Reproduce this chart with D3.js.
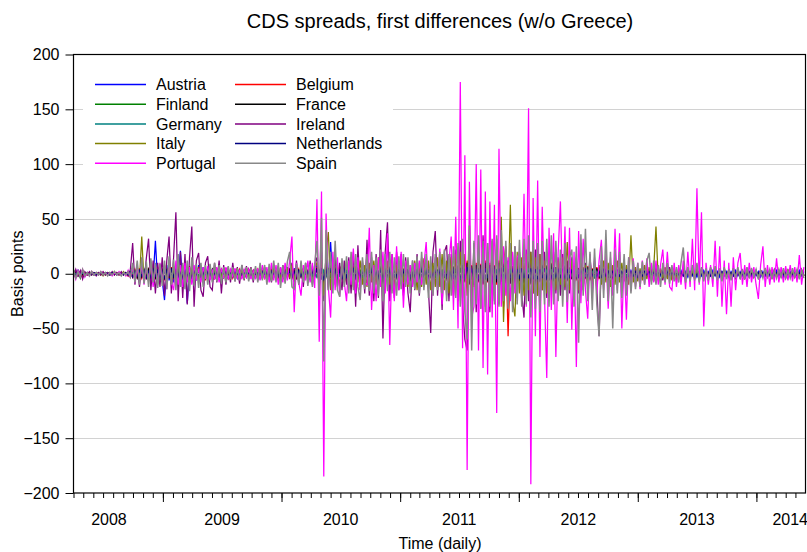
<!DOCTYPE html>
<html>
<head>
<meta charset="utf-8">
<script src="https://cdn.jsdelivr.net/npm/d3@7/dist/d3.min.js"></script>
<style>
  body { margin: 0; background: #fff; }
  text { font-family: "Liberation Sans", Arial, Helvetica, sans-serif; fill: #000; }
</style>
</head>
<body>
<svg id="chart" width="807" height="552"></svg>
<script>
// Weekly first differences of sovereign CDS spreads (basis points), first week starting 2008-04-01.
const startDate = "2008-04-01";
const endDate = "2014-06-01";

const countries = ["Austria", "Belgium", "Finland", "France", "Germany",
                   "Ireland", "Italy", "Netherlands", "Portugal", "Spain"];
const colors = ["#0000ff", "#ff0000", "#008000", "#000000", "#008080",
                "#800080", "#808000", "#000080", "#ff00ff", "#888888"];

const austria = [
  1,-2,3,-1,2,-1,1,-1,1,-1,1,-1,1,-1,1,-1,1,-1,1,-1,
  1,-1,1,-1,2,-2,4,-5,3,-4,5,-6,4,-5,6,-4,30,-8,5,-6,
  -24,8,-6,5,-8,6,-5,21,-10,8,-27,6,-8,5,-6,8,-5,6,-4,5,
  -4,3,-5,4,-3,4,-3,5,-4,3,-2,3,-4,2,-3,2,-3,4,-2,3,
  -3,2,-4,3,-2,3,-4,2,-3,4,-3,2,-3,4,-2,3,-4,5,-3,2,
  -3,4,-2,3,-5,2,-3,8,-6,10,-12,8,-6,29,-8,6,-5,4,-6,5,
  -4,6,-5,4,-3,5,-6,4,-5,3,-4,5,-3,4,-6,5,-4,3,-5,4,
  -3,5,-4,3,-5,4,-6,3,-4,5,-3,4,-5,6,-4,3,-5,4,-3,5,
  -4,6,-5,4,-6,5,-4,6,-8,5,-10,8,-6,10,-8,6,-5,8,-6,5,
  -8,6,-5,8,-6,5,-8,6,-10,8,-6,5,-8,6,-5,8,-6,5,-8,6,
  -5,8,-6,5,-8,6,-5,8,-6,5,-4,6,-5,4,-6,5,-4,6,-5,4,
  -6,5,-4,6,-5,4,-3,5,-4,3,-5,4,-3,5,-4,3,-2,4,-3,2,
  -3,2,-4,3,-2,3,-2,4,-3,2,-3,2,-2,3,-2,2,-3,2,-2,3,
  -2,3,-2,2,-3,2,-2,3,-2,2,-3,2,-2,2,-3,2,-2,3,-2,2,
  -2,3,-2,2,-3,2,-2,2,-3,2,-2,3,-2,2,-2,3,-2,2,-3,2,
  -2,2,-3,2,-2,3,-2,2,-2,3,-2,2,-3,2,-2,2,-3,2,-2,3,-2,2
];

const belgium = [
  -2,1,-1,2,-3,1,-1,1,-1,1,-1,1,-1,1,-1,1,-1,1,-1,1,
  -1,1,-1,1,-2,2,-3,4,-3,5,-4,3,-5,4,-3,5,-4,6,-5,4,
  -6,5,-4,6,-5,7,-6,5,-8,6,-5,7,-6,5,-4,6,-5,4,-6,5,
  -4,3,-5,4,-3,4,-3,5,-4,3,-4,3,-2,4,-3,2,-3,4,-2,3,
  -3,4,-2,3,-4,3,-2,4,-3,2,-4,3,-5,4,-3,5,-4,3,-5,4,
  -3,5,-4,3,-5,4,-3,6,-8,5,-10,8,-6,5,-8,6,-5,7,-6,5,
  -8,6,-5,7,-6,8,-5,6,-7,5,-8,6,-10,8,-6,10,-12,8,-6,7,
  -8,6,-5,8,-6,5,-7,6,-8,5,-6,8,-5,7,-6,5,-8,10,-7,6,
  -8,7,-10,8,-6,9,-8,7,-10,8,-12,10,-8,12,-10,8,-12,10,-8,9,
  -10,12,-8,10,-12,8,-10,12,-9,10,25,-57,10,-8,12,-10,8,-12,10,-8,
  12,-10,8,-12,10,-8,9,-10,8,-6,10,-8,6,-9,7,-6,8,-7,6,-5,
  7,-6,5,-8,6,-5,7,-6,5,-4,6,-5,4,-6,5,-4,6,-5,4,-3,
  5,-4,3,-5,4,-3,4,-3,5,-4,3,-2,4,-3,2,-3,4,-2,3,-2,
  3,-2,4,-3,2,-3,2,-2,3,-2,2,-3,2,-2,3,-2,2,-2,3,-2,
  2,-3,2,-2,3,-2,2,-2,3,-2,2,-2,3,-2,2,-3,2,-2,2,-3,
  2,-2,3,-2,2,-2,3,-2,2,-3,2,-2,2,-2,3,-2,2,-2,3,-2,2,-2
];

const finland = [
  4,-3,2,-4,3,-2,1,-1,1,-1,1,-1,1,-1,1,-1,1,-1,1,-1,
  1,-1,1,-1,1,-2,2,-3,2,-2,3,-2,2,-3,2,-3,3,-2,2,-3,
  2,-3,3,-2,2,-3,3,-2,3,-2,2,-3,2,-2,3,-2,2,-2,3,-2,
  2,-2,1,-2,2,-1,2,-2,1,-2,2,-1,2,-1,1,-2,2,-1,1,-2,
  2,-1,2,-2,1,-2,2,-1,2,-2,1,-2,2,-1,2,-2,3,-2,2,-3,
  2,-3,2,-2,3,-2,2,-3,3,-4,3,-3,4,-3,2,-3,3,-2,3,-2,
  3,-3,2,-3,3,-2,3,-3,2,-3,3,-2,3,-3,2,-3,3,-2,3,-3,
  2,-3,3,-2,3,-3,2,-3,3,-2,3,-3,2,-3,3,-4,3,-3,4,-3,
  3,-4,3,-3,4,-3,3,-4,3,-4,4,-3,4,-4,3,-4,4,-3,4,-4,
  3,-4,4,-3,4,-4,3,-4,4,-3,4,-4,3,-4,4,-3,4,-4,3,-4,
  4,-3,4,-4,3,-4,4,-3,4,-4,3,-4,4,-3,3,-4,3,-3,4,-3,
  3,-3,4,-3,3,-3,4,-3,3,-3,2,-3,3,-2,3,-3,2,-3,3,-2,
  2,-2,3,-2,2,-2,3,-2,2,-2,2,-2,2,-1,2,-2,1,-2,2,-1,
  2,-1,1,-2,2,-1,1,-1,2,-1,1,-2,1,-1,2,-1,1,-1,1,-2,
  1,-1,2,-1,1,-1,1,-2,1,-1,1,-1,2,-1,1,-1,1,-1,2,-1,
  1,-1,1,-2,1,-1,1,-1,2,-1,1,-1,1,-1,1,-2,1,-1,1,-1,1,-1
];

const france = [
  -1,2,-2,1,-1,1,-1,1,-1,1,-1,1,-1,1,-1,1,-1,1,-1,1,
  -1,1,-1,1,-1,2,-3,3,-4,3,-3,4,-3,4,-5,3,-4,5,-3,4,
  -5,4,-3,5,-4,6,-5,4,-6,5,-4,5,-6,4,-3,5,-4,3,-5,4,
  -3,4,-3,2,-4,3,-2,3,-3,2,-3,2,-2,3,-2,3,-2,2,-3,2,
  -2,3,-2,2,-3,2,-3,3,-2,3,-3,2,-4,3,-2,4,-3,2,-4,3,
  -2,4,-3,2,-4,3,-2,5,-6,4,-8,6,-5,4,-6,5,-4,6,-5,4,
  -6,5,-4,6,-5,7,-4,5,-6,4,-7,5,-8,6,-5,8,-9,6,-5,6,
  -6,5,-4,6,-5,4,-6,5,-7,4,-5,6,-4,6,-5,4,-6,8,-6,5,
  -6,6,-8,7,-5,8,-7,6,-8,7,-10,8,-7,10,-9,7,-10,8,-7,8,
  -9,10,-7,8,-10,7,-8,10,-8,9,-10,12,-9,7,-10,9,-7,10,-9,7,
  10,-9,7,-10,8,-7,8,-9,7,-6,9,-7,6,-8,6,-5,7,-6,5,-5,
  6,-5,5,-7,5,-4,6,-5,4,-4,5,-4,4,-5,4,-4,5,-4,3,-3,
  4,-3,3,-4,3,-3,3,-3,4,-3,3,-2,3,-3,2,-3,3,-2,3,-2,
  3,-2,2,-3,2,-1,2,-3,3,-2,1,-2,3,-2,2,-1,2,-3,2,-1,
  2,-3,1,-2,2,-1,3,-2,2,-1,2,-3,1,-2,2,-1,3,-2,1,-2,
  2,-1,3,-2,1,-2,2,-3,1,-2,2,-1,3,-2,1,-2,2,-1,2,-3,1,-2
];

const germany = [
  2,-1,3,-2,1,-1,1,0,-1,1,0,-1,1,-1,0,1,-1,0,1,-1,
  0,1,-1,0,1,-2,2,-3,2,-2,3,-2,4,-3,2,-3,3,-4,2,-3,
  3,-2,4,-3,2,-3,4,-2,3,-4,2,-3,3,-2,2,-3,2,-2,3,-2,
  2,-1,2,-2,1,-2,2,-1,1,-2,2,-1,1,-1,2,-1,1,-2,1,-1,
  2,-1,1,-2,1,-1,2,-2,1,-1,2,-1,2,-2,1,-2,2,-1,3,-2,
  2,-1,2,-3,1,-2,2,-3,2,-4,3,-2,3,-2,2,-3,2,-2,3,-2,
  2,-3,2,-2,3,-2,2,-3,2,-2,3,-2,3,-3,2,-3,3,-2,2,-3,
  3,-2,2,-3,2,-2,3,-2,2,-3,2,-2,3,-2,2,-3,3,-2,3,-3,
  2,-3,3,-2,3,-4,3,-3,4,-3,4,-3,3,-4,3,-4,3,-3,4,-3,
  3,-4,3,-3,4,-3,3,-4,4,-3,5,-4,3,-4,4,-3,4,-4,3,-3,
  4,-3,3,-4,3,-3,4,-3,3,-4,3,-3,4,-3,3,-3,2,-3,3,-2,
  3,-2,3,-3,2,-2,3,-2,2,-3,2,-2,2,-2,3,-2,2,-2,2,-1,
  2,-2,1,-2,2,-1,2,-2,1,-1,2,-1,1,-2,1,-1,2,-1,1,-1,
  1,-1,2,-1,1,-1,1,-2,1,-1,1,-1,2,-1,1,-1,1,-1,1,-2,
  1,-1,1,-1,2,-1,1,-1,1,-1,1,-2,1,-1,1,-1,1,-1,2,-1,
  1,-1,1,-1,1,-2,1,-1,1,-1,1,-1,2,-1,1,-1,1,-1,1,-1,2,-1
];

const ireland = [
  -3,4,-2,3,-5,2,-1,2,-1,1,-2,1,-1,2,-1,1,-1,2,-1,1,
  -1,2,-1,1,-2,4,28,-10,8,-12,10,-8,14,32,-15,12,-18,10,-12,15,
  -20,12,34,-18,15,56,-25,20,-22,18,-28,15,43,-30,12,19,-15,-21,10,16,
  -12,-15,10,-8,12,-18,8,-10,6,-8,10,-7,6,-9,8,-6,7,-5,6,-8,
  5,-6,8,-5,6,-7,5,-8,6,-5,7,-6,8,-7,6,-5,10,-8,12,-10,
  8,-12,10,-8,12,-10,8,15,-12,20,-25,18,-15,12,-10,14,-12,10,-15,12,
  -10,15,-18,20,-30,26,-15,12,-18,31,-20,15,-25,18,-22,40,-59,20,47,-25,
  18,-22,20,-15,18,-20,15,-18,-35,12,-15,18,-20,15,-12,10,-15,-54,20,39,
  -20,15,-33,20,26,-25,18,-20,22,-25,30,-28,-60,-70,25,-30,28,-35,30,-32,
  35,-30,28,-35,30,-25,32,-28,25,-30,22,-25,28,-20,25,-22,20,-18,-40,22,
  -25,20,-18,22,-20,18,-15,20,-22,18,-15,20,-18,15,-20,18,-15,12,-18,15,
  -12,15,-18,12,-15,10,-12,15,-10,12,-14,-57,12,-10,14,-12,10,-15,12,-10,
  8,-10,7,-8,6,-7,8,-6,5,-7,6,-5,7,-6,5,-7,6,-5,4,-6,
  5,-4,6,-5,4,-6,5,-4,6,-5,4,-5,6,-4,5,-6,4,-5,3,-4,
  5,-3,4,-5,3,-4,5,-3,4,-3,5,-4,3,-4,3,-5,4,-3,4,-3,
  3,-4,3,-2,4,-3,2,-3,4,-2,3,-3,2,-4,3,-2,3,-3,2,-3,4,-2
];

const italy = [
  2,-3,1,-2,3,-1,1,-1,2,-1,1,-1,1,-2,1,-1,1,-1,2,-1,
  1,-1,2,-1,1,-3,5,-6,4,-5,34,-8,6,-7,5,-8,6,-10,5,-6,
  8,-7,6,-9,7,-8,10,-6,8,-12,6,-8,7,-5,6,-7,5,-6,4,-5,
  5,-4,6,-5,4,-3,5,-4,3,-5,4,-3,5,-4,3,-4,5,-3,4,-3,
  4,-5,3,-4,6,-5,4,-6,5,-4,6,-5,7,-6,5,-4,8,-6,5,-7,
  6,-5,7,-6,5,-8,6,10,-12,15,-20,18,38,-15,12,-10,8,-12,10,-8,
  12,-10,8,-12,10,-8,12,-10,8,-12,10,-8,12,-10,15,-12,10,-14,12,-10,
  10,-12,8,-10,12,-8,10,-12,8,-10,12,-15,10,-12,14,-10,12,-15,10,-12,
  15,-12,18,-15,12,-18,15,-20,18,-15,20,-22,18,-20,44,-25,20,-22,25,-20,
  22,-25,20,-18,22,-20,25,-22,52,-44,20,-18,63,-25,-39,20,-18,15,-20,18,
  -15,20,-18,15,-20,18,-15,12,-18,15,-12,18,-15,12,-10,15,-12,29,-15,12,
  -10,12,-15,10,-12,8,-10,12,-8,10,-12,8,-10,12,-8,10,-12,8,-10,12,
  -8,10,-7,8,-10,35,-8,6,-7,5,-6,8,-5,6,-7,5,43,-6,5,-4,
  6,-5,4,-6,5,-4,3,-5,4,-3,5,-4,3,-5,4,-3,5,-4,3,-2,
  4,-3,2,-4,3,-2,4,-3,2,-3,4,-2,3,-3,2,-4,3,-2,3,-2,
  2,-3,2,-2,3,-2,2,-3,2,-2,3,-2,2,-2,3,-2,2,-3,2,-2,3,-2
];

const netherlands = [
  1,-2,2,-1,3,-2,1,-1,0,1,-1,0,1,-1,1,0,-1,1,0,-1,
  1,0,-1,1,-1,2,-3,2,-2,3,-2,3,-4,2,-3,4,-2,3,-3,2,
  -4,3,-2,4,-3,2,-4,3,-5,4,-3,2,-4,3,-2,3,-4,2,-3,2,
  -2,3,-2,1,-2,2,-1,2,-2,1,-2,2,-1,2,-1,1,-2,1,-2,1,
  -1,2,-1,2,-2,1,-2,2,-1,2,-2,1,-2,2,-1,2,-3,2,-2,3,
  -2,2,-3,2,-2,3,-2,4,-3,5,-6,4,-3,5,-4,3,-4,3,-5,4,
  -3,4,-3,5,-4,3,-4,3,-4,5,-3,4,-5,3,-4,4,-5,3,-4,4,
  -3,4,-3,3,-4,3,-3,4,-3,3,-4,3,-4,4,-3,3,-4,3,-3,4,
  -4,3,-4,4,-3,5,-4,3,-5,4,-5,4,-5,6,-4,5,-5,4,-5,4,
  -5,5,-4,5,-6,4,-5,5,-4,6,-5,7,-4,5,-5,4,-5,5,-4,5,
  -4,5,-5,4,-5,4,-4,5,-4,3,-4,4,-3,4,-3,3,-4,3,-3,3,
  -3,4,-3,3,-3,4,-3,3,-2,3,-3,2,-3,3,-2,2,-3,2,-2,3,
  -2,2,-2,3,-2,2,-2,2,-3,2,-2,2,-1,2,-2,1,-2,2,-1,2,
  -1,2,-2,1,-1,2,-1,1,-2,1,-1,2,-1,1,-1,2,-1,1,-1,1,
  -2,1,-1,1,-1,2,-1,1,-1,1,-2,1,-1,1,-1,1,-1,2,-1,1,
  -1,1,-1,1,-2,1,-1,1,-1,1,-1,2,-1,1,-1,1,-1,1,-2,1,-1,1
];

const portugal = [
  2,-5,3,-2,4,-3,1,-2,2,-1,1,-1,2,-1,1,-1,1,-2,1,-1,
  2,-1,1,-2,3,-4,6,-8,5,-6,8,-10,6,-5,9,-12,7,-8,10,-6,
  8,-14,10,-8,-15,12,-10,8,-12,10,-8,6,-10,8,-6,5,-8,6,-5,7,
  -6,4,-5,6,-8,5,-4,6,-5,4,-3,5,-4,3,-5,4,-3,4,-5,3,
  -4,5,-6,8,-5,6,-8,10,-6,8,-10,6,-8,10,-6,12,34,-35,10,-8,
  -20,8,-6,12,-8,10,-13,68,-62,75,-185,55,-12,-40,20,-15,15,-21,10,-8,
  -25,12,-10,23,-18,15,-15,10,-8,-10,42,-33,8,-25,15,-12,20,-18,37,-65,
  18,-25,25,-15,20,-31,12,-10,8,-12,10,-8,12,-10,8,29,-15,10,-20,15,
  -12,23,-28,15,-20,10,34,-33,52,-50,175,-68,108,-179,84,-40,-30,100,-70,95,
  -86,75,-92,66,-40,63,-127,114,-30,25,-20,15,-25,20,-18,15,20,-25,73,-30,
  151,-192,69,-57,85,-76,61,-20,-95,42,-33,37,-76,19,66,-20,43,-45,42,-51,
  20,-85,39,-27,32,-15,-41,18,-20,15,-18,12,31,-15,18,-32,15,-20,41,-15,
  37,-50,13,-42,15,-16,14,-12,10,-14,12,-10,14,-12,10,-8,12,-10,8,22,
  -10,20,-12,-15,10,-12,8,-10,12,-14,20,-12,32,-15,78,-10,56,-48,10,-10,
  8,-12,30,-21,25,-30,12,-37,10,-30,15,-15,10,19,-10,8,-12,10,-8,6,
  -10,-23,8,25,-12,8,-10,6,-8,14,-8,6,-8,7,-6,8,-7,6,-8,17,-10,6
];

const spain = [
  3,-4,2,-3,4,-2,1,-2,2,-1,1,-1,2,-1,1,-2,1,-1,2,-1,
  1,-2,1,-1,2,-3,10,-8,12,-10,15,-9,11,-12,14,-8,10,-13,9,-11,
  12,-14,16,-10,13,-15,18,-12,10,-14,12,-16,15,-11,9,-13,10,-12,8,-10,
  9,-8,10,-7,8,-9,6,-8,7,-5,6,-7,5,-6,8,-5,6,-7,5,-6,
  7,-8,10,-6,8,-10,9,-7,12,-8,10,-13,8,-9,11,20,-12,-14,9,-10,
  12,-8,10,-11,9,-12,8,30,-20,51,-80,40,-15,20,-18,30,-15,-21,14,-12,
  16,-18,20,-15,18,-12,-24,15,-14,18,-16,20,-18,15,-20,22,-25,18,-16,20,
  -18,15,-20,16,-14,18,-12,15,-18,12,-14,16,-18,20,-15,18,-22,16,-20,18,
  -15,20,-18,22,-25,18,-20,25,-22,28,-30,32,-35,-60,44,-70,30,-28,35,-32,
  30,-35,28,-30,32,-28,35,-30,40,-25,30,-32,28,-35,25,-28,31,-30,32,-28,
  35,-40,30,-32,28,-35,30,-28,32,-30,35,-28,30,-25,22,-30,28,-26,15,22,
  -30,25,-63,36,-20,41,-25,20,-33,23,-28,-57,25,-22,40,-25,20,-50,22,-18,
  20,-22,18,-20,15,-18,12,-14,10,-12,11,-10,12,19,-10,12,-10,8,-12,10,
  -8,10,-9,8,-7,6,-8,10,24,-8,6,-7,8,-6,10,-8,6,-7,5,-6,
  6,-5,7,-6,5,-7,6,-5,4,-6,5,-4,6,-5,4,-5,6,-4,5,-3,
  4,-5,3,-4,5,-3,4,-5,3,-4,4,-3,5,-4,3,-4,5,-3,4,-5,3,-4
];

// Series in plotting order; the last one is drawn on top.
const seriesValues = [austria, belgium, finland, france, germany,
                      ireland, italy, netherlands, portugal, spain];

const yTicks = [-200, -150, -100, -50, 0, 50, 100, 150, 200];
const yearLabels = ["2008", "2009", "2010", "2011", "2012", "2013", "2014"];
const yearLabelDates = ["2008-07-19", "2009-07-02", "2010-07-02", "2011-07-02",
                        "2012-07-02", "2013-07-02", "2014-04-15"];

const parse = d3.timeParse("%Y-%m-%d");
const t0 = parse(startDate);
const dateAt = i => d3.timeDay.offset(t0, 7 * i);

const plot = { left: 73.5, right: 805.5, top: 54.5, bottom: 493 };
const axisFont = "16px";

const svg = d3.select("#chart");

const x = d3.scaleTime()
  .domain([t0, parse(endDate)])
  .range([plot.left, plot.right]);

const y = d3.scaleLinear()
  .domain([-200, 200])
  .range([plot.bottom, plot.top]);

// horizontal grid
svg.append("g")
  .selectAll("line")
  .data(yTicks.filter(v => v > -200 && v < 200))
  .join("line")
  .attr("x1", plot.left).attr("x2", plot.right)
  .attr("y1", d => Math.round(y(d)) + 0.5).attr("y2", d => Math.round(y(d)) + 0.5)
  .attr("stroke", "#d2d2d2").attr("stroke-width", 1);

// data lines
svg.append("clipPath").attr("id", "plotclip")
  .append("rect")
  .attr("x", plot.left).attr("y", plot.top)
  .attr("width", plot.right - plot.left).attr("height", plot.bottom - plot.top);

const line = d3.line()
  .x((d, i) => x(dateAt(i)))
  .y(d => y(d));

svg.append("g")
  .attr("clip-path", "url(#plotclip)")
  .selectAll("path")
  .data(seriesValues)
  .join("path")
  .attr("d", line)
  .attr("fill", "none")
  .attr("stroke", (d, i) => colors[i])
  .attr("stroke-width", (d, i) => i === seriesValues.length - 1 ? 1.5 : 1.25)
  .attr("stroke-linejoin", "miter");

// legend
const legend = svg.append("g");
legend.append("rect")
  .attr("x", 83).attr("y", 71).attr("width", 310).attr("height", 104)
  .attr("fill", "#fff");
const leg = legend.selectAll("g.item")
  .data(countries)
  .join("g")
  .attr("class", "item")
  .attr("transform", (d, i) => {
    const col = i % 2, row = Math.floor(i / 2);
    return `translate(${col === 0 ? 95 : 235},${84.5 + row * 19.7})`;
  });
leg.append("line")
  .attr("x1", 0).attr("x2", 51).attr("y1", 0).attr("y2", 0)
  .attr("stroke", (d, i) => colors[i]).attr("stroke-width", 1.5);
leg.append("text")
  .attr("x", 61).attr("y", 5.8)
  .attr("font-size", axisFont)
  .text(d => d);

// axes
const yAxis = d3.axisLeft(y).tickValues(yTicks).tickSize(8).tickPadding(6);
svg.append("g")
  .attr("transform", `translate(${plot.left},0)`)
  .call(yAxis)
  .call(g => g.select(".domain").remove())
  .call(g => g.selectAll("text").attr("font-size", axisFont)
      .attr("font-family", "'Liberation Sans', Arial, sans-serif").attr("fill", "#000"));

const months = d3.timeMonth.range(d3.timeMonth.ceil(x.domain()[0]), x.domain()[1]);
const years = months.filter(d => d.getMonth() === 0);
svg.append("g")
  .attr("transform", `translate(0,${plot.bottom})`)
  .call(d3.axisBottom(x).tickValues(months).tickSize(5).tickFormat(""))
  .call(g => g.select(".domain").remove());
svg.append("g")
  .attr("transform", `translate(0,${plot.bottom})`)
  .call(d3.axisBottom(x).tickValues(years).tickSize(9).tickFormat(""))
  .call(g => g.select(".domain").remove());

svg.append("g")
  .selectAll("text")
  .data(yearLabels)
  .join("text")
  .attr("x", (d, i) => x(parse(yearLabelDates[i])))
  .attr("y", 525)
  .attr("text-anchor", "middle")
  .attr("font-size", axisFont)
  .text(d => d);

// frame
svg.append("rect")
  .attr("x", plot.left).attr("y", plot.top)
  .attr("width", plot.right - plot.left).attr("height", plot.bottom - plot.top)
  .attr("fill", "none").attr("stroke", "#000").attr("stroke-width", 1.2);

// titles
svg.append("text")
  .attr("x", 440).attr("y", 28)
  .attr("text-anchor", "middle")
  .attr("font-size", "20px")
  .text("CDS spreads, first differences (w/o Greece)");

svg.append("text")
  .attr("x", 440).attr("y", 549)
  .attr("text-anchor", "middle")
  .attr("font-size", axisFont)
  .text("Time (daily)");

svg.append("text")
  .attr("transform", `translate(23,${y(0)}) rotate(-90)`)
  .attr("text-anchor", "middle")
  .attr("font-size", axisFont)
  .text("Basis points");
</script>
</body>
</html>
